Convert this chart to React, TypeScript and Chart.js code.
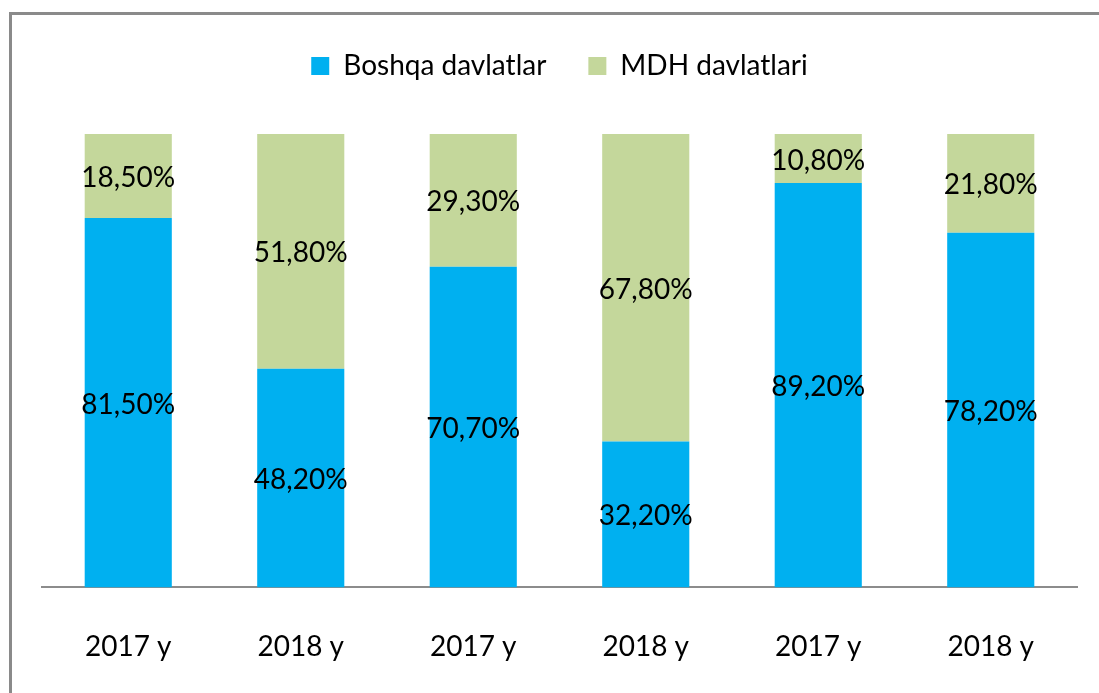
import React, { useEffect, useRef } from "react";
import { Chart, registerables } from "chart.js";

Chart.register(...registerables);

const categories = ["2017 y", "2018 y", "2017 y", "2018 y", "2017 y", "2018 y"];
const boshqa = [81.5, 48.2, 70.7, 32.2, 89.2, 78.2];
const mdh = [18.5, 51.8, 29.3, 67.8, 10.8, 21.8];
const seriesNames = ["Boshqa davlatlar", "MDH davlatlari"];
const seriesColors = ["#00B0F0", "#C4D79B"];

const FONT = "Lato";

const fmt = (v: number) => v.toFixed(2).replace(".", ",") + "%";

const framePlugin = {
  id: "frame",
  beforeLayout(chart: any) {
    const lg = chart.legend;
    if (lg && !lg.__patched) {
      const orig = lg.fit;
      lg.fit = function () {
        orig.call(this);
        this.height += 44;
      };
      lg.__patched = true;
    }
  },
  beforeDraw(chart: any) {
    const ctx = chart.ctx;
    ctx.save();
    ctx.fillStyle = "#ffffff";
    ctx.fillRect(0, 0, chart.width, chart.height);
    ctx.strokeStyle = "#8a8a8a";
    ctx.lineWidth = 3;
    ctx.strokeRect(10.5, 13.5, 1300, 900);
    ctx.restore();
  },
};

const labelPlugin = {
  id: "barLabels",
  afterDatasetsDraw(chart: any) {
    const ctx = chart.ctx;
    ctx.save();
    ctx.font = `28px ${FONT}`;
    ctx.fillStyle = "#000000";
    ctx.textAlign = "center";
    ctx.textBaseline = "middle";
    chart.data.datasets.forEach((ds: any, di: number) => {
      const meta = chart.getDatasetMeta(di);
      meta.data.forEach((el: any, i: number) => {
        const y = (el.y + el.base) / 2;
        ctx.fillText(fmt(ds.data[i]), el.x, y + 2);
      });
    });
    ctx.restore();
  },
};

export default function App() {
  const ref = useRef<HTMLCanvasElement>(null);
  useEffect(() => {
    if (!ref.current) return;
    const chart = new Chart(ref.current, {
      type: "bar",
      data: {
        labels: categories,
        datasets: [
          { label: seriesNames[0], data: boshqa, backgroundColor: seriesColors[0], borderWidth: 0 },
          { label: seriesNames[1], data: mdh, backgroundColor: seriesColors[1], borderWidth: 0 },
        ],
      },
      options: {
        animation: false,
        responsive: false,
        maintainAspectRatio: false,
        layout: { padding: { top: 10, left: 42, right: 22, bottom: -14 } },
        plugins: {
          legend: {
            position: "top",
            labels: {
              boxWidth: 18,
              boxHeight: 18,
              padding: 42,
              color: "#000000",
              font: { family: FONT, size: 28 },
            },
          },
          tooltip: { enabled: false },
        },
        scales: {
          x: {
            stacked: true,
            grid: { display: false, drawTicks: false },
            border: { display: true, color: "#8c8c8c", width: 2 },
            ticks: { color: "#000000", font: { family: FONT, size: 28 }, padding: 43 },
          },
          y: {
            stacked: true,
            display: false,
            min: 0,
            max: 100,
          },
        },
        datasets: { bar: { categoryPercentage: 1, barPercentage: 0.505 } },
      } as any,
      plugins: [framePlugin, labelPlugin],
    });
    return () => chart.destroy();
  }, []);
  return (
    <div style={{ position: "fixed", left: 0, top: 0, width: 1099, height: 693, background: "#fff" }}>
      <canvas ref={ref} width={1099} height={693} style={{ display: "block", width: 1099, height: 693 }} />
    </div>
  );
}
